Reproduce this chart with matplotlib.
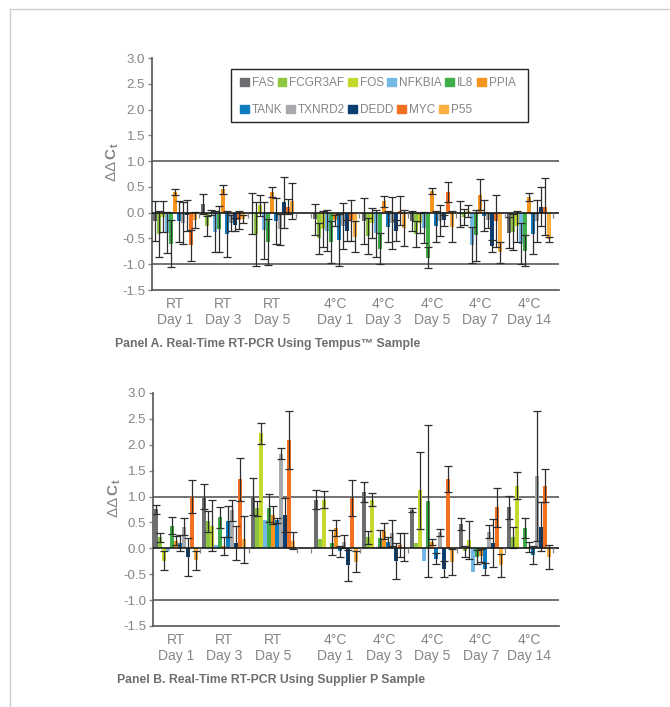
import matplotlib.pyplot as plt
import numpy as np
from matplotlib.lines import Line2D
from matplotlib.patches import Patch, Rectangle

plt.rcParams['font.family'] = ['Liberation Sans', 'DejaVu Sans']
plt.rcParams['mathtext.fontset'] = 'custom'
plt.rcParams['mathtext.rm'] = 'Liberation Sans'
plt.rcParams['mathtext.bf'] = 'Liberation Sans:bold'

# genes and colours
genes = ["FAS", "FCGR3AF", "FOS", "NFKBIA", "IL8", "PPIA",
         "TANK", "TXNRD2", "DEDD", "MYC", "P55"]
colors = ["#6d6e71", "#8dc63f", "#c5d82e", "#74b9e6", "#3fae49", "#f7941d",
          "#0d7cc1", "#a7a9ac", "#0b3f73", "#f37021", "#fbb040"]
groups = ["RT\nDay 1", "RT\nDay 3", "RT\nDay 5", "4°C\nDay 1", "4°C\nDay 3",
          "4°C\nDay 5", "4°C\nDay 7", "4°C\nDay 14"]

# Panel A - Tempus sample (rows = groups, cols = genes)
a_vals = [
    [-0.16, -0.41, -0.08, -0.39, -0.60, 0.40, -0.17, -0.20, -0.05, -0.63, -0.14],
    [0.17, -0.26, 0.01, -0.37, -0.32, 0.45, -0.41, -0.20, -0.23, -0.14, -0.12],
    [-0.02, -0.41, 0.14, -0.34, -0.57, 0.40, -0.16, -0.32, 0.20, 0.12, 0.22],
    [-0.13, -0.50, -0.32, -0.35, -0.57, -0.15, -0.53, -0.26, -0.35, -0.15, -0.47],
    [-0.16, -0.45, -0.20, -0.40, -0.70, 0.22, -0.27, -0.20, -0.35, 0.04, -0.30],
    [-0.16, -0.42, -0.20, -0.29, -0.87, 0.42, -0.26, -0.16, -0.15, 0.40, -0.27],
    [-0.02, -0.08, 0.03, -0.63, -0.44, 0.35, -0.06, -0.15, -0.65, -0.16, -0.77],
    [-0.39, -0.37, -0.26, -0.60, -0.74, 0.30, -0.41, -0.16, 0.12, 0.12, -0.52],
]
a_errs = [
    [0.38, 0.45, 0.30, 0.40, 0.45, 0.06, 0.40, 0.40, 0.30, 0.30, 0.15],
    [0.20, 0.20, 0.05, 0.40, 0.45, 0.08, 0.45, 0.15, 0.12, 0.18, 0.08],
    [0.40, 0.62, 0.20, 0.55, 0.45, 0.10, 0.45, 0.30, 0.50, 0.15, 0.35],
    [0.30, 0.30, 0.35, 0.40, 0.40, 0.10, 0.50, 0.45, 0.20, 0.40, 0.30],
    [0.45, 0.35, 0.30, 0.45, 0.30, 0.10, 0.30, 0.50, 0.20, 0.28, 0.35],
    [0.20, 0.25, 0.20, 0.30, 0.20, 0.05, 0.30, 0.30, 0.10, 0.20, 0.30],
    [0.25, 0.15, 0.12, 0.35, 0.50, 0.30, 0.30, 0.15, 0.12, 0.50, 0.20],
    [0.30, 0.35, 0.30, 0.40, 0.30, 0.08, 0.40, 0.40, 0.38, 0.55, 0.05],
]

# Panel B - Supplier P sample
b_vals = [
    [0.75, 0.21, -0.24, -0.06, 0.44, 0.15, 0.10, 0.42, -0.17, 1.00, -0.23],
    [1.00, 0.52, 0.44, 0.07, 0.60, 0.04, 0.52, 0.73, 0.11, 1.33, 0.17],
    [1.00, 0.77, 2.22, 0.55, 0.77, 0.64, 0.54, 1.83, 0.65, 2.10, 0.15],
    [0.94, 0.17, 0.94, 0.01, 0.11, 0.39, -0.06, 0.13, -0.33, 0.97, -0.26],
    [1.09, 0.21, 0.94, 0.02, 0.19, 0.33, 0.12, 0.29, -0.25, 0.07, 0.03],
    [0.74, 0.10, 1.12, -0.25, 0.92, 0.12, -0.20, 0.31, -0.40, 1.33, -0.27],
    [0.47, -0.06, 0.16, -0.46, -0.17, -0.14, -0.40, 0.32, 0.10, 0.79, -0.33],
    [0.79, 0.21, 1.21, 0.01, 0.39, 0.03, -0.13, 1.40, 0.42, 1.21, -0.17],
]
b_errs = [
    [0.08, 0.08, 0.18, 0.00, 0.16, 0.08, 0.15, 0.17, 0.37, 0.32, 0.18],
    [0.24, 0.20, 0.50, 0.00, 0.20, 0.17, 0.30, 0.20, 0.33, 0.41, 0.46],
    [0.36, 0.15, 0.20, 0.00, 0.27, 0.17, 0.05, 0.10, 0.33, 0.56, 0.16],
    [0.18, 0.00, 0.16, 0.00, 0.24, 0.16, 0.10, 0.13, 0.30, 0.35, 0.20],
    [0.19, 0.12, 0.12, 0.00, 0.16, 0.16, 0.10, 0.25, 0.35, 0.23, 0.27],
    [0.04, 0.00, 0.74, 0.00, 1.47, 0.06, 0.10, 0.07, 0.15, 0.25, 0.25],
    [0.12, 0.10, 0.37, 0.00, 0.13, 0.13, 0.12, 0.13, 0.47, 0.37, 0.22],
    [0.22, 0.20, 0.26, 0.00, 0.19, 0.10, 0.18, 1.25, 0.47, 0.32, 0.23],
]

group_x = np.array([0, 1, 2, 3.3, 4.3, 5.3, 6.3, 7.3])
bar_w = 0.0825
grey = "#858585"


def draw_panel(ax, vals, errs):
    vals = np.array(vals)
    errs = np.array(errs)
    for j, (g, c) in enumerate(zip(genes, colors)):
        x = group_x + (j - 5) * bar_w
        ax.bar(x, vals[:, j], width=bar_w, color=c, linewidth=0, zorder=2)
        m = errs[:, j] > 0
        ax.errorbar(x[m], vals[m, j], yerr=errs[m, j], fmt='none',
                    ecolor="#2e2e2e", elinewidth=0.9, capsize=2.6,
                    capthick=0.9, zorder=3)
    ax.axhline(1.0, color="#5a5a5a", lw=1.2, zorder=1)
    ax.axhline(-1.0, color="#5a5a5a", lw=1.2, zorder=1)
    ax.axhline(0.0, color="#1a1a1a", lw=1.2, zorder=4)
    # small category tick marks on the zero line
    bounds = np.unique(np.concatenate([group_x - 0.5, group_x + 0.5]))
    ax.vlines(bounds[1:], -0.1, 0, color=grey, lw=0.9, zorder=4)

    ax.set_xlim(-0.474, 7.92)
    ax.set_ylim(-1.5, 3.0)
    ticks = np.arange(-1.5, 3.01, 0.5)
    ax.set_yticks(ticks)
    ax.set_yticklabels([f"{v:.1f}" for v in ticks])
    ax.set_xticks(group_x)
    ax.set_xticklabels(groups, linespacing=1.2)
    ax.tick_params(axis='x', length=0, labelsize=10, colors=grey, pad=5)
    ax.tick_params(axis='y', length=3, width=1, labelsize=9.5, colors=grey,
                   pad=2)
    for s in ["top", "right"]:
        ax.spines[s].set_visible(False)
    for s in ["left", "bottom"]:
        ax.spines[s].set_color("#555555")
        ax.spines[s].set_linewidth(1.2)
    ax.set_ylabel(r"$\Delta\Delta\,\mathbf{C}_\mathbf{t}$", color=grey,
                  fontsize=11)
    ax.yaxis.set_label_coords(-0.075, 0.55)


fig = plt.figure(figsize=(6.7, 7.07), dpi=100)

ax_a = fig.add_axes([0.2269, 0.5898, 0.6075, 0.3281])
draw_panel(ax_a, a_vals, a_errs)

ax_b = fig.add_axes([0.2284, 0.1146, 0.606, 0.3296])
draw_panel(ax_b, b_vals, b_errs)

# legend: two independent rows inside one box
handles = [Patch(color=c, label=g) for g, c in zip(genes, colors)]
leg_kw = dict(loc="center left", frameon=False, fontsize=8.5,
              handlelength=0.75, handleheight=0.75, handletextpad=0.25,
              columnspacing=0.3, borderpad=0, borderaxespad=0,
              labelcolor=grey)
leg1 = ax_a.legend(handles=handles[:6], ncol=6,
                   bbox_to_anchor=(0.216, 0.892), **leg_kw)
ax_a.add_artist(leg1)
ax_a.legend(handles=handles[6:], ncol=5,
            bbox_to_anchor=(0.216, 0.776), **leg_kw)
ax_a.add_patch(Rectangle((0.194, 0.724), 0.730, 0.229,
                         transform=ax_a.transAxes, fill=False,
                         edgecolor="#222222", lw=1.0, zorder=5,
                         clip_on=False))

fig.text(0.172, 1 - 344 / 707, "Panel A. Real-Time RT-PCR Using Tempus™ Sample",
         fontsize=8.8, fontweight="bold", color="#6d6e71", va="center")
fig.text(0.175, 1 - 680 / 707, "Panel B. Real-Time RT-PCR Using Supplier P Sample",
         fontsize=8.8, fontweight="bold", color="#6d6e71", va="center")

# card border
fig.add_artist(Line2D([10 / 670, 10 / 670], [0, 1 - 9 / 707],
                      color="#cfcfcf", lw=1, transform=fig.transFigure))
fig.add_artist(Line2D([10 / 670, 1], [1 - 9 / 707, 1 - 9 / 707],
                      color="#cfcfcf", lw=1, transform=fig.transFigure))

fig.savefig("out.png", dpi=100)
